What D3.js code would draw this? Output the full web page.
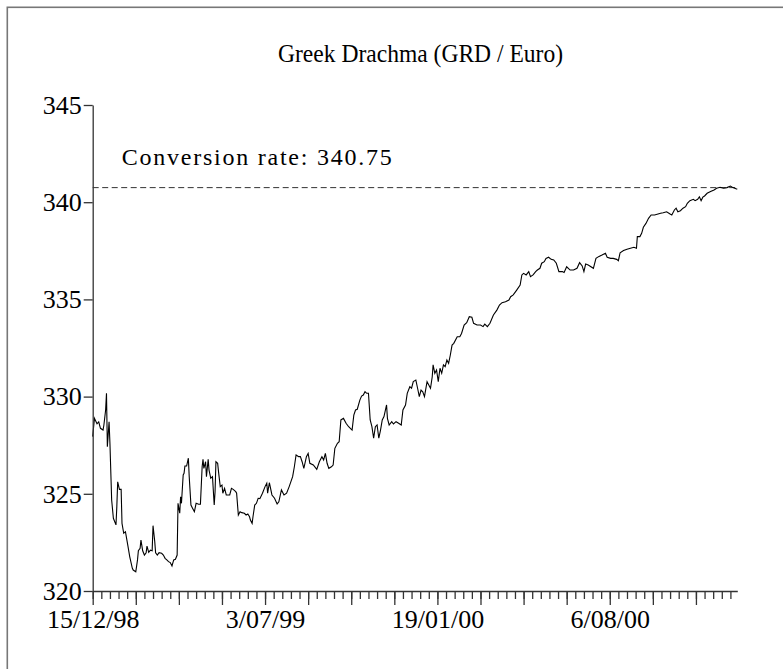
<!DOCTYPE html>
<html>
<head>
<meta charset="utf-8">
<script src="https://cdn.jsdelivr.net/npm/d3@7"></script>
<style>
body{margin:0;background:#fff;}
svg text{font-family:"Liberation Serif","Times New Roman",serif;fill:#000;}
</style>
</head>
<body>
<svg id="chart"></svg>
<script>
// series: days counted from 15/12/98, GRD per euro
var startDate=new Date(1998,11,15);
var endOffset=748;
var dayOffsets=[0,2,5,7,9,12,13,15,16,17,19,20,22,24,27,28,29,31,33,34,36,38,40,41,43,46,47,50,52,53,55,56,58,60,62,63,65,67,69,70,72,73,75,77,80,82,84,86,88,90,92,94,96,98,99,101,102,103,105,106,107,109,111,112,114,116,118,120,123,125,127,128,129,131,132,134,135,137,139,141,142,143,145,146,148,150,151,153,155,157,159,161,163,166,167,169,171,173,176,178,180,182,183,185,186,188,190,192,194,197,200,202,203,205,208,211,214,216,219,222,225,228,232,234,236,239,241,243,245,248,250,252,256,260,263,266,268,270,272,274,277,279,281,284,286,288,291,294,297,301,303,305,307,310,312,314,316,318,320,322,324,326,328,330,332,334,336,338,341,342,344,347,349,352,355,358,360,363,365,368,370,372,375,377,379,381,383,385,387,388,390,392,394,395,397,399,401,403,405,407,409,411,413,415,417,419,423,426,428,431,434,437,440,442,446,450,453,455,458,461,465,469,472,475,479,483,485,488,492,496,498,500,503,506,508,511,514,516,519,521,524,526,529,532,535,538,541,545,547,550,554,558,562,565,568,570,572,575,581,584,587,591,595,597,601,604,608,610,612,616,620,624,628,631,632,635,637,639,642,645,648,652,656,659,662,666,670,672,675,677,679,682,685,688,690,693,697,699,702,704,706,708,710,713,717,721,724,728,732,736,740,743,747,748];
var rates=[327.94,328.88,328.6,328.7,328.37,328.28,328.54,329.31,330.17,327.42,328.7,327.6,324.68,323.74,323.4,324.34,325.62,325.23,325.23,323.48,322.97,323.05,322.54,322.28,321.76,321.17,321.08,320.99,321.6,322.07,322.2,322.62,322.07,321.85,321.97,322.31,321.99,322.1,322.07,323.36,322.54,321.97,321.85,321.97,321.94,321.85,321.68,321.6,321.51,321.46,321.29,321.6,321.63,321.85,324.51,324.0,324.85,324.51,325.97,326.05,326.43,326.43,326.83,325.88,324.42,324.25,324.08,324.51,324.46,324.46,326.39,326.77,326.31,326.65,325.88,326.77,326.22,325.8,325.88,324.42,325.11,326.65,326.57,326.14,325.37,325.45,325.03,325.28,324.94,324.94,324.94,325.28,325.23,325.11,325.03,323.91,324.08,324.03,324.0,323.91,323.96,323.82,323.65,323.48,323.82,324.42,324.51,324.77,324.75,325.03,325.37,325.54,325.03,325.57,324.94,324.77,324.48,324.59,325.2,324.94,325.03,325.37,325.88,326.39,327.0,326.91,326.91,326.65,326.31,326.91,327.08,326.57,326.48,326.26,326.65,326.91,326.74,327.08,326.57,326.31,326.39,326.48,327.34,327.6,327.68,328.8,328.88,328.63,328.45,328.28,329.05,329.31,329.35,329.82,330.03,330.08,330.25,330.17,330.17,328.8,328.45,327.86,328.45,328.54,327.86,328.28,328.8,328.97,329.57,328.88,328.54,328.71,328.59,328.71,328.63,328.54,329.31,329.57,330.17,330.51,330.43,330.77,330.85,330.43,330.0,330.34,330.25,330.0,330.51,330.77,330.6,330.43,331.02,331.63,331.2,331.37,330.77,331.46,331.2,331.63,331.54,331.88,331.71,332.14,332.65,332.74,333.08,333.08,333.25,333.68,333.8,334.11,334.08,333.77,333.68,333.68,333.6,333.73,333.6,333.77,334.2,334.45,334.71,334.83,334.88,334.97,335.14,335.23,335.48,335.74,336.26,336.34,336.26,336.43,336.17,336.26,336.43,336.51,336.6,336.86,336.94,337.11,337.17,337.06,337.03,336.86,336.43,336.43,336.38,336.68,336.51,336.51,336.6,336.89,336.72,336.43,336.82,336.77,336.6,337.11,337.2,337.28,337.37,337.17,337.11,337.11,337.06,336.99,337.4,337.51,337.58,337.63,337.68,337.63,338.23,338.23,338.4,338.71,338.91,339.17,339.34,339.34,339.39,339.43,339.46,339.51,339.39,339.34,339.6,339.69,339.51,339.56,339.69,339.77,339.94,340.08,340.15,340.08,340.15,340.28,340.08,340.26,340.32,340.46,340.55,340.63,340.72,340.77,340.72,340.75,340.83,340.75,340.68,340.68];
var yTicks=[320,325,330,335,340,345];
var conversionRate=340.75;
var chartTitle="Greek Drachma (GRD / Euro)";
var rateLabel="Conversion rate: 340.75";
var minorStep=10, majorStep=50, labelStep=200;

var w=783, h=669;
var margin={left:92.7, right:45.7, top:105, bottom:78};

var data=dayOffsets.map(function(d,i){
  return {date:d3.timeDay.offset(startDate,d), rate:rates[i]};
});
var endDate=d3.timeDay.offset(startDate,endOffset);

var svg=d3.select("#chart")
          .attr("width",w)
          .attr("height",h);

// frame
svg.append("rect")
   .attr("x",7.3).attr("y",7.3)
   .attr("width",900).attr("height",900)
   .attr("fill","none")
   .attr("stroke","#777")
   .attr("stroke-width",1.6);

var xScale=d3.scaleTime()
             .domain([startDate,endDate])
             .range([margin.left,w-margin.right]);
var yScale=d3.scaleLinear()
             .domain([320,345])
             .range([h-margin.bottom,margin.top]);

var minorDates=d3.range(0,endOffset,minorStep).map(function(d){return d3.timeDay.offset(startDate,d);});
var majorDates=d3.range(0,endOffset,majorStep).map(function(d){return d3.timeDay.offset(startDate,d);});
var labelTimes=d3.range(0,endOffset,labelStep).map(function(d){return +d3.timeDay.offset(startDate,d);});
var fmt=d3.timeFormat("%-d/%m/%y");

// conversion rate line
svg.append("line")
   .attr("x1",xScale(startDate))
   .attr("x2",xScale(endDate))
   .attr("y1",yScale(conversionRate))
   .attr("y2",yScale(conversionRate))
   .attr("stroke","#333")
   .attr("stroke-width",1)
   .attr("stroke-dasharray","6,3.5");

var line=d3.line()
           .x(function(d){return xScale(d.date);})
           .y(function(d){return yScale(d.rate);});
svg.append("path")
   .datum(data)
   .attr("d",line)
   .attr("fill","none")
   .attr("stroke","#000")
   .attr("stroke-width",1.1);

// x axis: minor, then major + labels
var xMinor=d3.axisBottom(xScale)
             .tickValues(minorDates)
             .tickSize(8)
             .tickSizeOuter(0)
             .tickFormat("");
var xMajor=d3.axisBottom(xScale)
             .tickValues(majorDates)
             .tickSize(14)
             .tickSizeOuter(0)
             .tickPadding(5)
             .tickFormat(function(d){return labelTimes.indexOf(+d)>=0?fmt(d):"";});
svg.append("g")
   .classed("xMinor",true)
   .attr("transform","translate(0,"+(h-margin.bottom)+")")
   .call(xMinor);
var gx=svg.append("g")
   .classed("xAxis",true)
   .attr("transform","translate(0,"+(h-margin.bottom)+")")
   .call(xMajor);
gx.select(".domain").remove();

var yAxis=d3.axisLeft(yScale)
            .tickValues(yTicks)
            .tickSize(9)
            .tickSizeOuter(0)
            .tickPadding(2)
            .tickFormat(d3.format("d"));
svg.append("g")
   .classed("yAxis",true)
   .attr("transform","translate("+margin.left+",0)")
   .call(yAxis);

svg.selectAll(".domain, .tick line")
   .attr("stroke","#333")
   .attr("stroke-width",1.3);
svg.selectAll(".tick text")
   .attr("font-size",26)
   .style("font-family","'Liberation Serif','Times New Roman',serif");

svg.append("text")
   .attr("x",420.5)
   .attr("y",62)
   .attr("text-anchor","middle")
   .attr("font-size",25)
   .attr("textLength",285)
   .attr("lengthAdjust","spacingAndGlyphs")
   .text(chartTitle);

svg.append("text")
   .attr("x",121.7)
   .attr("y",165)
   .attr("font-size",24)
   .attr("textLength",270)
   .attr("lengthAdjust","spacing")
   .text(rateLabel);
</script>
</body>
</html>
